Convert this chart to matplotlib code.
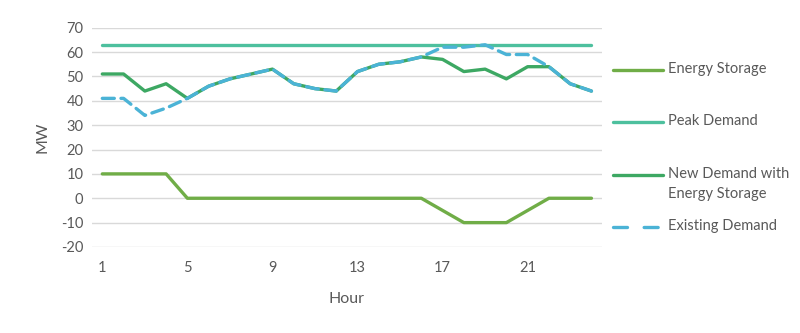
import matplotlib
matplotlib.use("Agg")
import matplotlib.pyplot as plt
from matplotlib.lines import Line2D

plt.rcParams['font.family'] = ['Lato', 'DejaVu Sans']
plt.rcParams['axes.unicode_minus'] = False

hours = list(range(1, 25))
energy_storage = [10, 10, 10, 10, 0, 0, 0, 0, 0, 0, 0, 0,
                  0, 0, 0, 0, -5, -10, -10, -10, -5, 0, 0, 0]
peak_demand = [63] * 24
new_demand = [51, 51, 44, 47, 41, 46, 49, 51, 53, 47, 45, 44,
              52, 55, 56, 58, 57, 52, 53, 49, 54, 54, 47, 44]
existing_demand = [41, 41, 34, 37, 41, 46, 49, 51, 53, 47, 45, 44,
                   52, 55, 56, 58, 62, 62, 63, 59, 59, 54, 47, 44]
x_ticks = [1, 5, 9, 13, 17, 21]
y_ticks = list(range(-20, 71, 10))

W, H = 800, 333
fig = plt.figure(figsize=(W / 100, H / 100), dpi=100)
ax = fig.add_axes([0.1146, 0.2583, 0.638, 0.6585])

lw = 2.4
styles = [
    ('Energy Storage', energy_storage, dict(color='#70AD47')),
    ('Peak Demand', peak_demand, dict(color='#4DC09E')),
    ('New Demand with\nEnergy Storage', new_demand, dict(color='#3DA863')),
    ('Existing Demand', existing_demand,
     dict(color='#4BB3D6', dashes=(3.6, 2.0), dash_capstyle='round')),
]
for label, values, kw in styles:
    ax.plot(hours, values, lw=lw, label=label, solid_capstyle='round', **kw)

ax.set_xlim(0.5, 24.5)
ax.set_ylim(-20, 70)
ax.set_xticks(x_ticks)
ax.set_yticks(y_ticks)
ax.grid(axis='y', color='#D9D9D9', lw=1)
ax.set_axisbelow(True)
for s in ax.spines.values():
    s.set_visible(False)
ax.tick_params(length=0, labelsize=10.5, labelcolor='#595959', pad=6)
ax.tick_params(axis='x', pad=10)
ax.set_xlabel('Hour', fontsize=11.5, color='#595959', labelpad=12)
ax.set_ylabel('MW', fontsize=11.5, color='#595959', labelpad=8)

# Legend drawn on the right, handles aligned with the first text line
legend_rows = [70, 122, 175, 227]
x0, x1, xt = 613, 663, 668
for (label, _, kw), yp in zip(styles, legend_rows):
    yf = 1 - yp / H
    line_kw = {k: v for k, v in kw.items()}
    if 'dashes' in line_kw:
        line_kw['dashes'] = (4.2, 5.0)
    fig.add_artist(Line2D([x0 / W, x1 / W], [yf, yf], lw=lw,
                          solid_capstyle='round', transform=fig.transFigure,
                          **line_kw))
    fig.text(xt / W, yf, label, fontsize=10.5, color='#595959',
             va='top', ha='left', linespacing=1.55,
             transform=fig.transFigure).set_y(yf + 8 / H)

fig.savefig('out.png', dpi=100)
